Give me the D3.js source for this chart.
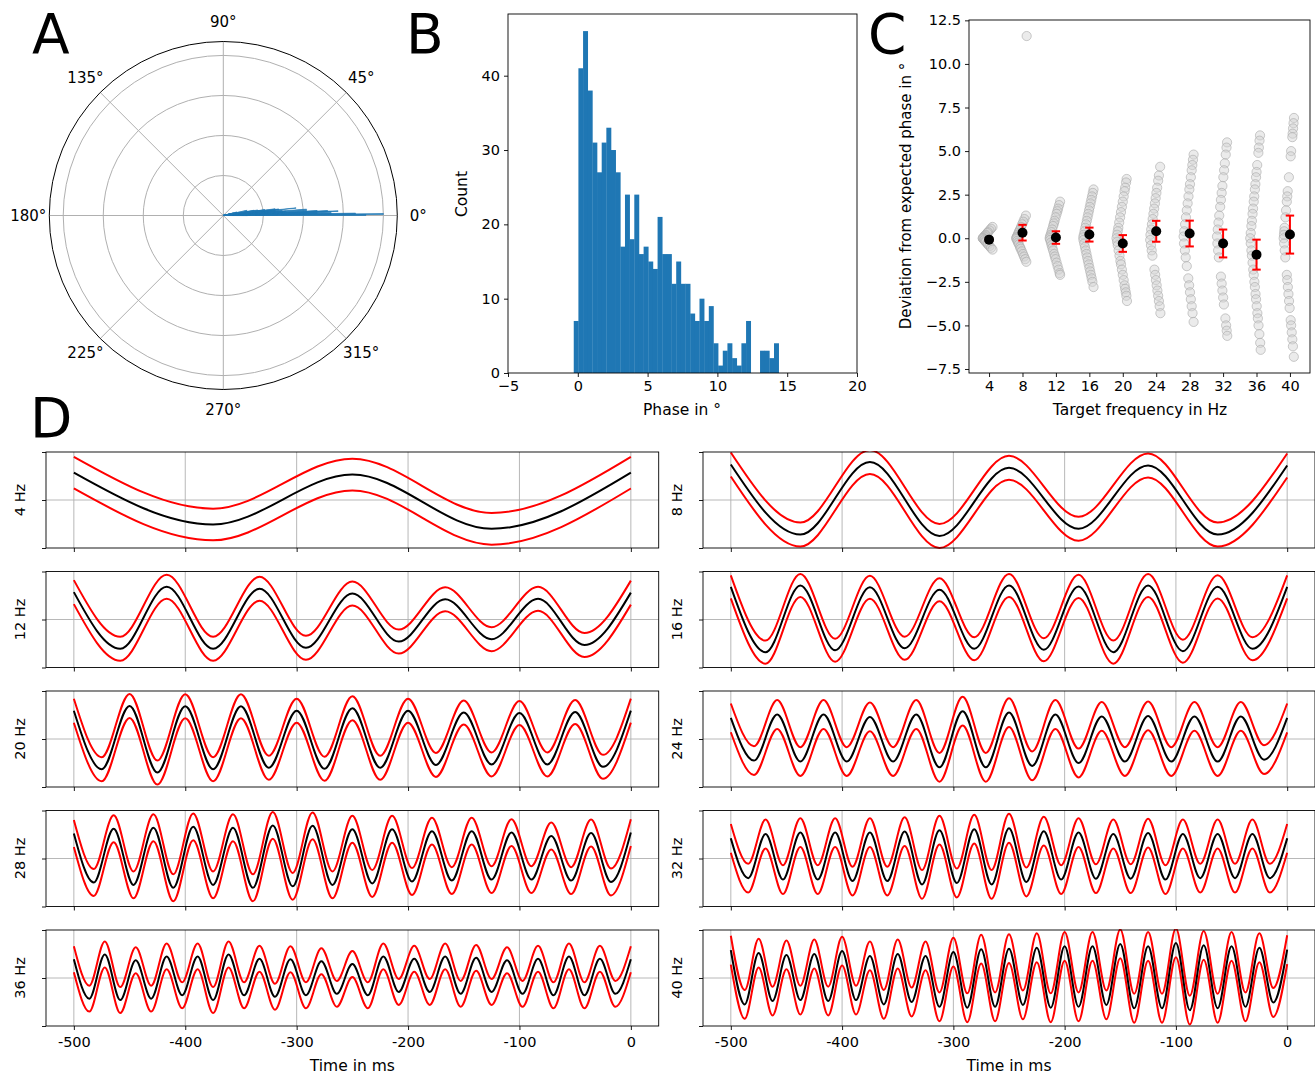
<!DOCTYPE html>
<html>
<head>
<meta charset="utf-8">
<script src="https://cdn.jsdelivr.net/npm/d3@7"></script>
<style>
  body { margin: 0; background: #fff; }
  text { font-family: "DejaVu Sans", sans-serif; }
</style>
</head>
<body>
<svg id="fig" width="1315" height="1076"></svg>
<script>
// ---------- data ----------
// phase histogram (panel A + B), bins in degrees
const phaseBinStart = -0.29
const phaseBinWidth = 0.3336
const phaseCounts = [7, 41, 46, 38, 31, 27, 31, 33, 30, 27, 17, 24, 18, 24, 16, 17, 15, 14, 21, 16, 16, 12,
                     15, 12, 12, 8, 7, 10, 7, 9, 4, 1, 3, 4, 2, 1, 4, 7, 0, 0, 3, 3, 2, 4]
const polarAngleTicks = [0, 45, 90, 135, 180, 225, 270, 315]
const polarRings = [11.5, 23, 34.5, 46]
const histXTicks = [-5, 0, 5, 10, 15, 20]
const histYTicks = [0, 10, 20, 30, 40]

// panel C: deviation from expected phase per target frequency
const freqs = [4, 8, 12, 16, 20, 24, 28, 32, 36, 40]
const devMeans = [-0.08, 0.32, 0.04, 0.21, -0.30, 0.40, 0.27, -0.30, -0.94, 0.21]
const devErr = [0.05, 0.45, 0.36, 0.40, 0.48, 0.60, 0.74, 0.80, 0.86, 1.09]
const dev4 = [0.65, 0.55, 0.45, 0.35, 0.3, 0.2, 0.15, 0.1, 0.05, 0, 0, -0.05, -0.1, -0.15, -0.2, -0.3, -0.35, -0.45, -0.55, -0.65]
const dev8 = [11.6, 1.3, 1.1, 0.95, 0.8, 0.65, 0.5, 0.4, 0.3, 0.2, 0.1, 0.05, 0, -0.05, -0.15, -0.25, -0.35, -0.5, -0.6, -0.75, -0.9, -1.05, -1.2, -1.35]
const dev12 = [2.1, 1.9, 1.7, 1.55, 1.4, 1.2, 1.0, 0.85, 0.7, 0.5, 0.35, 0.2, 0.1, 0, -0.1, -0.25, -0.4, -0.55, -0.7, -0.9, -1.05, -1.2, -1.4, -1.6, -1.8, -2.0, -2.1]
const dev16 = [2.8, 2.6, 2.4, 2.2, 2.0, 1.8, 1.6, 1.4, 1.2, 1.0, 0.8, 0.6, 0.4, 0.2, 0.05, -0.1, -0.3, -0.5, -0.7, -0.9, -1.1, -1.3, -1.5, -1.7, -1.9, -2.1, -2.3, -2.5, -2.8]
const dev20 = [3.4, 3.2, 2.9, 2.7, 2.4, 2.1, 1.8, 1.5, 1.2, 0.9, 0.6, 0.4, 0.2, 0, -0.2, -0.4, -0.7, -1.0, -1.3, -1.5, -1.8, -2.1, -2.4, -2.7, -2.9, -3.1, -3.3, -3.6]
const dev24 = [4.1, 3.6, 3.3, 2.9, 2.6, 2.3, 2.0, 1.7, 1.4, 1.1, 0.8, 0.5, 0.2, -0.1, -0.4, -0.7, -1.0, -1.8, -2.1, -2.4, -2.7, -3.0, -3.3, -3.6, -3.9, -4.3]
const dev28 = [4.8, 4.5, 4.2, 3.9, 3.5, 3.1, 2.8, 2.4, 2.0, 1.6, 1.2, 0.8, 0.4, 0.1, -0.3, -0.7, -1.1, -1.6, -2.3, -2.7, -3.1, -3.5, -3.9, -4.3, -4.8]
const dev32 = [5.5, 5.2, 4.8, 4.3, 3.9, 3.5, 3.0, 2.6, 2.2, 1.8, 1.3, 0.9, 0.5, 0.1, -0.3, -0.7, -1.1, -2.2, -2.6, -3.0, -3.4, -3.8, -4.6, -5.0, -5.3, -5.6]
const dev36 = [5.9, 5.6, 5.2, 4.9, 4.2, 3.8, 3.5, 3.1, 2.8, 2.4, 2.1, 1.7, 1.4, 1.0, 0.7, 0.3, 0.0, -0.3, -0.7, -1.0, -1.4, -1.8, -2.1, -2.5, -2.8, -3.2, -3.5, -3.9, -4.3, -4.6, -5.0, -5.5, -6.0, -6.4]
const dev40 = [6.9, 6.6, 6.3, 6.0, 5.8, 5.0, 4.7, 3.5, 2.7, 2.4, 2.1, 1.6, 1.2, 0.6, 0.4, 0.2, 0.0, -0.3, -0.7, -1.1, -2.1, -2.4, -2.8, -3.2, -3.6, -4.0, -4.7, -5.0, -5.4, -5.8, -6.2, -6.8]
const deviations = [dev4, dev8, dev12, dev16, dev20, dev24, dev28, dev32, dev36, dev40]
const devYTicks = [-7.5, -5, -2.5, 0, 2.5, 5, 7.5, 10, 12.5]

// panel D: mean waveform extremes (peak / trough values, -500 ms .. 0 ms) and sd
const wave4 = [0.57, -0.51, 0.53, -0.60, 0.57]
const wave8 = [0.74, -0.72, 0.79, -0.75, 0.67, -0.60, 0.72, -0.72, 0.72]
const wave12 = [0.57, -0.61, 0.68, -0.61, 0.64, -0.59, 0.54, -0.46, 0.42, -0.41, 0.43, -0.53, 0.56]
const wave16 = [0.68, -0.68, 0.71, -0.64, 0.67, -0.60, 0.62, -0.61, 0.71, -0.63, 0.69, -0.68, 0.71, -0.66, 0.68, -0.61, 0.68]
const wave20 = [0.59, -0.63, 0.69, -0.70, 0.68, -0.63, 0.68, -0.60, 0.59, -0.62, 0.64, -0.60, 0.59, -0.54, 0.55, -0.53, 0.54, -0.53, 0.56, -0.58, 0.59]
const wave24 = [0.44, -0.45, 0.51, -0.47, 0.51, -0.47, 0.46, -0.47, 0.51, -0.59, 0.58, -0.59, 0.55, -0.56, 0.51, -0.50, 0.47, -0.47, 0.48, -0.47, 0.47, -0.47, 0.47, -0.43, 0.44]
const wave28 = [0.52, -0.50, 0.62, -0.55, 0.64, -0.61, 0.66, -0.55, 0.64, -0.61, 0.69, -0.58, 0.68, -0.55, 0.61, -0.52, 0.61, -0.48, 0.57, -0.46, 0.57, -0.44, 0.54, -0.44, 0.47, -0.46, 0.53, -0.49, 0.54]
const wave32 = [0.42, -0.41, 0.51, -0.44, 0.54, -0.44, 0.54, -0.47, 0.54, -0.47, 0.56, -0.54, 0.59, -0.51, 0.61, -0.54, 0.63, -0.49, 0.57, -0.44, 0.54, -0.42, 0.51, -0.42, 0.53, -0.44, 0.51, -0.41, 0.51, -0.41, 0.51, -0.41, 0.42]
const wave36 = [0.39, -0.43, 0.49, -0.46, 0.37, -0.43, 0.45, -0.36, 0.45, -0.46, 0.49, -0.36, 0.40, -0.39, 0.39, -0.36, 0.35, -0.33, 0.29, -0.36, 0.45, -0.29, 0.40, -0.29, 0.45, -0.33, 0.42, -0.29, 0.37, -0.33, 0.40, -0.36, 0.45, -0.36, 0.40, -0.33, 0.39]
const wave40 = [0.58, -0.55, 0.52, -0.48, 0.48, -0.46, 0.50, -0.48, 0.56, -0.46, 0.46, -0.55, 0.50, -0.50, 0.46, -0.60, 0.54, -0.62, 0.60, -0.60, 0.61, -0.56, 0.63, -0.62, 0.66, -0.60, 0.66, -0.56, 0.71, -0.63, 0.66, -0.63, 0.73, -0.67, 0.68, -0.63, 0.66, -0.60, 0.63, -0.51, 0.59]
const waves = [wave4, wave8, wave12, wave16, wave20, wave24, wave28, wave32, wave36, wave40]
const waveSd = [0.33, 0.25, 0.25, 0.24, 0.25, 0.30, 0.28, 0.30, 0.27, 0.30]
const timeTicks = [-500, -400, -300, -200, -100, 0]

// ---------- helpers ----------
const svg = d3.select("#fig")
const gridColor = "#b0b0b0"

function styleAxis(g) {
    g.select(".domain").remove()
    g.selectAll(".tick line").attr("stroke", "#000").attr("stroke-width", 0.9)
    g.selectAll(".tick text").attr("fill", "#000").style("font-size", "14.5px")
}

function frame(x0, y0, x1, y1) {
    svg.append("rect")
        .attr("x", x0).attr("y", y0)
        .attr("width", x1 - x0).attr("height", y1 - y0)
        .attr("fill", "none").attr("stroke", "#000").attr("stroke-width", 0.9)
}

function panelLabel(txt, x, y) {
    svg.append("text").attr("x", x).attr("y", y).text(txt)
        .style("font-size", "55px").attr("fill", "#000")
}

// ---------- panel A: polar histogram ----------
const cx = 223.3, cy = 215.5, rOuter = 174
const rPolar = d3.scaleLinear().domain([0, 50]).range([0, rOuter])
const polar = svg.append("g").attr("transform", `translate(${cx},${cy})`)

polar.selectAll(".ring").data(polarRings).join("circle")
    .attr("r", d => rPolar(d)).attr("fill", "none")
    .attr("stroke", gridColor).attr("stroke-width", 1)

polar.selectAll(".spoke").data(polarAngleTicks).join("line")
    .attr("x1", 0).attr("y1", 0)
    .attr("x2", d => rOuter * Math.cos(d * Math.PI / 180))
    .attr("y2", d => -rOuter * Math.sin(d * Math.PI / 180))
    .attr("stroke", gridColor).attr("stroke-width", 1)

const arc = d3.arc()
polar.selectAll(".wedge").data(phaseCounts).join("path")
    .attr("d", (c, i) => {
        const a0 = (phaseBinStart + i * phaseBinWidth) * Math.PI / 180
        const a1 = a0 + phaseBinWidth * Math.PI / 180
        return arc({innerRadius: 0, outerRadius: rPolar(c), startAngle: Math.PI / 2 - a1, endAngle: Math.PI / 2 - a0})
    })
    .attr("fill", "#1f77b4").attr("stroke", "#1f77b4").attr("stroke-width", 0.6)

polar.append("circle").attr("r", rOuter).attr("fill", "none")
    .attr("stroke", "#000").attr("stroke-width", 1)

polar.selectAll(".alab").data(polarAngleTicks).join("text")
    .attr("x", d => 195 * Math.cos(d * Math.PI / 180))
    .attr("y", d => -194 * Math.sin(d * Math.PI / 180))
    .attr("text-anchor", "middle").attr("dominant-baseline", "central")
    .style("font-size", "15px")
    .text(d => d + "°")

// ---------- panel B: histogram ----------
const bx = d3.scaleLinear().domain([-5, 20]).range([508, 857])
const by = d3.scaleLinear().domain([0, 48.3]).range([373, 14])

svg.append("g").selectAll("rect").data(phaseCounts).join("rect")
    .attr("x", (c, i) => bx(phaseBinStart + i * phaseBinWidth))
    .attr("width", bx(phaseBinWidth) - bx(0) + 0.3)
    .attr("y", c => by(c))
    .attr("height", c => by(0) - by(c))
    .attr("fill", "#1f77b4")

svg.append("g").attr("transform", "translate(0,373)")
    .call(d3.axisBottom(bx).tickValues(histXTicks).tickSize(4).tickPadding(4).tickFormat(d3.format("d")))
    .call(styleAxis)
svg.append("g").attr("transform", "translate(508,0)")
    .call(d3.axisLeft(by).tickValues(histYTicks).tickSize(4).tickPadding(4))
    .call(styleAxis)
frame(508, 14, 857, 373)

svg.append("text").attr("x", 682).attr("y", 415).attr("text-anchor", "middle")
    .style("font-size", "15.5px").text("Phase in °")
svg.append("text").attr("transform", "translate(467,194) rotate(-90)").attr("text-anchor", "middle")
    .style("font-size", "15.5px").text("Count")

// ---------- panel C: deviation scatter ----------
const clx = d3.scaleLinear().domain([1.6, 42.4]).range([969, 1310])
const cly = d3.scaleLinear().domain([-7.73, 12.52]).range([373, 20])

const scatter = svg.append("g")
freqs.forEach((f, k) => {
    const spread = 0.175 * f
    scatter.selectAll(null).data(deviations[k]).join("circle")
        .attr("cx", d => clx(f - 0.75 + 1.25 * Math.min(1, Math.abs(d) / spread)))
        .attr("cy", d => cly(d))
        .attr("r", 4.6)
        .attr("fill", "#d3d3d3").attr("fill-opacity", 0.45)
        .attr("stroke", "#a8a8a8").attr("stroke-opacity", 0.6).attr("stroke-width", 1)
})

const errG = svg.append("g").attr("stroke", "#ff0000").attr("stroke-width", 2)
freqs.forEach((f, k) => {
    const lo = cly(devMeans[k] - devErr[k]), hi = cly(devMeans[k] + devErr[k])
    errG.append("line").attr("x1", clx(f)).attr("x2", clx(f)).attr("y1", lo).attr("y2", hi)
    errG.append("line").attr("x1", clx(f) - 4.2).attr("x2", clx(f) + 4.2).attr("y1", lo).attr("y2", lo)
    errG.append("line").attr("x1", clx(f) - 4.2).attr("x2", clx(f) + 4.2).attr("y1", hi).attr("y2", hi)
})

svg.append("g").selectAll("circle").data(freqs).join("circle")
    .attr("cx", f => clx(f)).attr("cy", (f, k) => cly(devMeans[k]))
    .attr("r", 5).attr("fill", "#000")

svg.append("g").attr("transform", "translate(0,373)")
    .call(d3.axisBottom(clx).tickValues(freqs).tickSize(4).tickPadding(4))
    .call(styleAxis)
svg.append("g").attr("transform", "translate(969,0)")
    .call(d3.axisLeft(cly).tickValues(devYTicks).tickSize(4).tickPadding(4).tickFormat(d3.format(".1f")))
    .call(styleAxis)
frame(969, 20, 1310, 373)

svg.append("text").attr("x", 1140).attr("y", 415).attr("text-anchor", "middle")
    .style("font-size", "15.5px").text("Target frequency in Hz")
svg.append("text").attr("transform", "translate(911,196) rotate(-90)").attr("text-anchor", "middle")
    .style("font-size", "15px").text("Deviation from expected phase in °")

// ---------- panel D: mean waveforms ----------
const colLeft = [46, 703], colRight = [658.7, 1315]
const rowTop0 = 452, rowStep = 119.5, rowH = 96

freqs.forEach((f, k) => {
    const col = k % 2, row = Math.floor(k / 2)
    const top = rowTop0 + row * rowStep, bottom = top + rowH
    const x = d3.scaleLinear().domain([-525, 25]).range([colLeft[col], colRight[col]])
    const y = d3.scaleLinear().domain([-1, 1]).range([bottom, top])
    const g = svg.append("g")

    // grid
    g.selectAll(".vg").data(timeTicks).join("line")
        .attr("x1", d => x(d)).attr("x2", d => x(d)).attr("y1", top).attr("y2", bottom)
        .attr("stroke", gridColor).attr("stroke-width", 0.9)
    g.append("line").attr("x1", x.range()[0]).attr("x2", x.range()[1])
        .attr("y1", y(0)).attr("y2", y(0))
        .attr("stroke", gridColor).attr("stroke-width", 0.9)

    const clipId = "clip" + f
    svg.append("clipPath").attr("id", clipId).append("rect")
        .attr("x", x.range()[0]).attr("y", top - 1)
        .attr("width", x.range()[1] - x.range()[0]).attr("height", rowH + 2)

    const amps = waves[k]
    const step = 500 / (amps.length - 1)
    const pts = amps.map((v, i) => ({t: -500 + i * step, v: v}))
    const sd = waveSd[k]
    const line = off => d3.line().x(d => x(d.t)).y(d => y(d.v + off)).curve(d3.curveMonotoneX)(pts)

    const lines = g.append("g").attr("clip-path", `url(#${clipId})`).attr("fill", "none")
    lines.append("path").attr("d", line(sd)).attr("stroke", "#ff0000").attr("stroke-width", 2)
    lines.append("path").attr("d", line(-sd)).attr("stroke", "#ff0000").attr("stroke-width", 2)
    lines.append("path").attr("d", line(0)).attr("stroke", "#000").attr("stroke-width", 2)

    const xAxis = d3.axisBottom(x).tickValues(timeTicks).tickSize(4).tickPadding(7)
    if (row < 4) xAxis.tickFormat("")
    else xAxis.tickFormat(d => String(d))
    g.append("g").attr("transform", `translate(0,${bottom})`).call(xAxis).call(styleAxis)
    g.append("g").attr("transform", `translate(${x.range()[0]},0)`)
        .call(d3.axisLeft(y).tickValues([-1, 0, 1]).tickSize(4).tickFormat(""))
        .call(styleAxis)
    frame(x.range()[0], top, x.range()[1], bottom)

    svg.append("text")
        .attr("transform", `translate(${x.range()[0] - 26.5},${top + rowH / 2}) rotate(-90)`)
        .attr("text-anchor", "middle").attr("dominant-baseline", "central")
        .style("font-size", "14.5px").text(f + " Hz")

    if (row === 4) {
        svg.append("text").attr("x", x(-250)).attr("y", 1071).attr("text-anchor", "middle")
            .style("font-size", "15.5px").text("Time in ms")
    }
})

// ---------- panel letters ----------
panelLabel("A", 32, 53)
panelLabel("B", 406, 53)
panelLabel("C", 868, 53)
panelLabel("D", 30, 437)
</script>
</body>
</html>
